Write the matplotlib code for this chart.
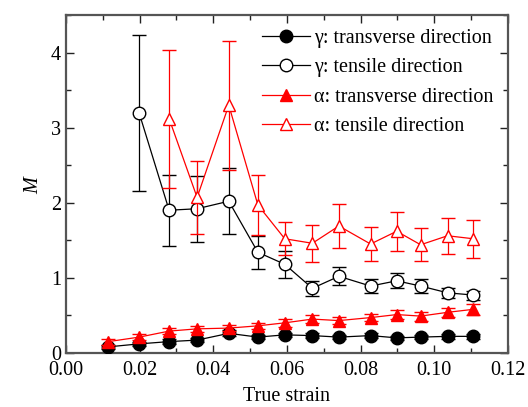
import numpy as np
import matplotlib.pyplot as plt
from matplotlib.ticker import MultipleLocator
from matplotlib.lines import Line2D

plt.rcParams['font.family'] = ['Liberation Serif', 'DejaVu Serif']
plt.rcParams['mathtext.fontset'] = 'custom'
plt.rcParams['mathtext.it'] = 'Liberation Serif:italic'

# true strain
strain = [0.0115, 0.0199, 0.0280, 0.0356, 0.0442, 0.0521, 0.0594,
          0.0669, 0.0741, 0.0827, 0.0898, 0.0963, 0.1036, 0.1106]

# gamma, transverse direction
g_tr = [0.08, 0.12, 0.15, 0.17, 0.26, 0.21, 0.24, 0.23, 0.21, 0.23, 0.20, 0.21, 0.22, 0.22]
g_tr_err = [0.03, 0.03, 0.03, 0.03, 0.04, 0.03, 0.03, 0.03, 0.03, 0.03, 0.03, 0.03, 0.03, 0.03]

# gamma, tensile direction (starts at second strain)
g_te = [3.19, 1.90, 1.92, 2.02, 1.34, 1.18, 0.86, 1.02, 0.89, 0.96, 0.89, 0.80, 0.77]
g_te_err = [1.04, 0.47, 0.44, 0.44, 0.22, 0.18, 0.10, 0.12, 0.09, 0.10, 0.09, 0.07, 0.06]

# alpha, transverse direction
a_tr = [0.15, 0.21, 0.29, 0.32, 0.33, 0.36, 0.40, 0.45, 0.43, 0.47, 0.51, 0.49, 0.54, 0.58]
a_tr_err = [0.04, 0.04, 0.04, 0.04, 0.04, 0.04, 0.05, 0.05, 0.05, 0.05, 0.06, 0.06, 0.06, 0.07]

# alpha, tensile direction (starts at third strain)
a_te = [3.12, 2.07, 3.30, 1.97, 1.52, 1.46, 1.69, 1.45, 1.62, 1.44, 1.56, 1.52]
a_te_err = [0.92, 0.48, 0.86, 0.40, 0.22, 0.25, 0.29, 0.23, 0.26, 0.22, 0.24, 0.25]

labels = ["γ: transverse direction", "γ: tensile direction",
          "α: transverse direction", "α: tensile direction"]

red = (1.0, 0.0, 0.0)

fig = plt.figure(figsize=(5.28, 4.07), dpi=100)
ax = fig.add_axes([0.125, 0.133, 0.837, 0.830])

common = dict(capsize=5, elinewidth=0.9, capthick=0.9, lw=0.9, ms=9, markeredgewidth=1.0)

ax.errorbar(strain, g_tr, yerr=g_tr_err, fmt='-o', color='k', mfc='k', mec='k',
            zorder=3, **common)
ax.errorbar(strain[1:], g_te, yerr=g_te_err, fmt='-o', color='k', mfc='white', mec='k',
            zorder=3, **common)
ax.errorbar(strain, a_tr, yerr=a_tr_err, fmt='-^', color=red, mfc=red, mec=red,
            zorder=4, **common)
ax.errorbar(strain[2:], a_te, yerr=a_te_err, fmt='-^', color=red, mfc='white', mec=red,
            zorder=4, **common)

handles = [
    Line2D([], [], color='k', lw=0.9, marker='o', ms=9, mfc='k', mec='k'),
    Line2D([], [], color='k', lw=0.9, marker='o', ms=9, mfc='white', mec='k'),
    Line2D([], [], color=red, lw=0.9, marker='^', ms=9, mfc=red, mec=red),
    Line2D([], [], color=red, lw=0.9, marker='^', ms=9, mfc='white', mec=red),
]

ax.set_xlim(0.0, 0.12)
ax.set_ylim(0, 4.5)
ax.xaxis.set_major_locator(MultipleLocator(0.02))
ax.xaxis.set_minor_locator(MultipleLocator(0.01))
ax.yaxis.set_major_locator(MultipleLocator(1))
ax.yaxis.set_minor_locator(MultipleLocator(0.5))
ax.xaxis.set_major_formatter(plt.FormatStrFormatter('%.2f'))

ax.tick_params(which='both', direction='in', top=True, right=True, labelsize=14.5,
               color='#222222', width=1.0)
ax.tick_params(which='major', length=6)
ax.tick_params(which='minor', length=3.5)
ax.tick_params(axis='x', pad=6)
for s in ax.spines.values():
    s.set_linewidth(1.6)
    s.set_color('#555555')

ax.set_xlabel("True strain", fontsize=14.5, labelpad=5)
ax.set_ylabel(r"$M$", fontsize=14.5, labelpad=6)

ax.legend(handles, labels, loc='upper right', frameon=False, fontsize=14.5,
          handlelength=2.4, handletextpad=0.2, labelspacing=0.5, borderaxespad=0.3,
          bbox_to_anchor=(1.0, 1.0))

fig.savefig("out.png", dpi=100)
